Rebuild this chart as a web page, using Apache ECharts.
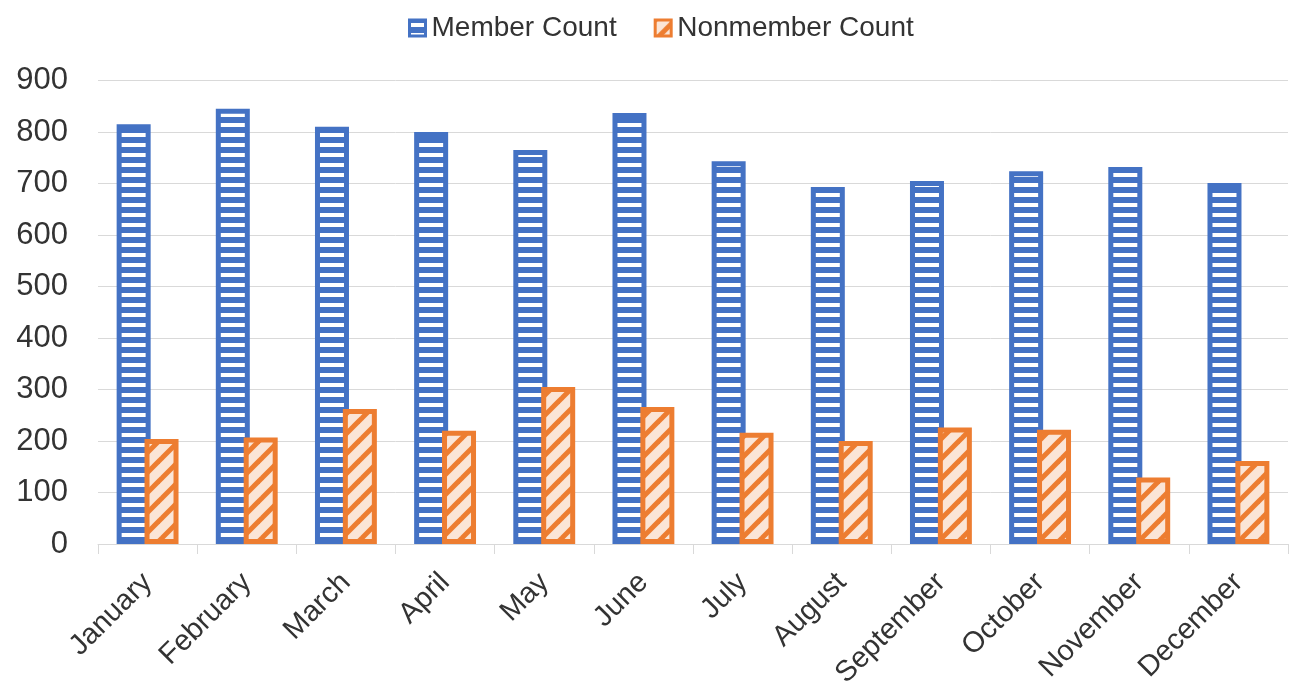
<!DOCTYPE html>
<html><head><meta charset="utf-8">
<script src="https://cdn.jsdelivr.net/npm/echarts@6/dist/echarts.min.js"></script>
<style>html,body{margin:0;padding:0;background:#fff}#c{width:1293px;height:692px}</style>
</head><body><div id="c"></div>
<script>
const categories = ['January','February','March','April','May','June','July','August','September','October','November','December'];
const memberCount = [815, 845, 810, 800, 765, 837, 743, 693, 705, 724, 732, 701];
const nonmemberCount = [204, 207, 262, 220, 305, 266, 216, 200, 226, 222, 129, 161];
const yMin = 0, yMax = 900, yStep = 100;

function blueTile() {
  const c = document.createElement('canvas'); c.width = 10; c.height = 10;
  const g = c.getContext('2d');
  g.fillStyle = '#4472C4'; g.fillRect(0, 0, 10, 10);
  g.fillStyle = '#ffffff'; g.fillRect(0, 3, 10, 4);
  return c;
}
function orangeTile() {
  const c = document.createElement('canvas'); c.width = 20; c.height = 20;
  const g = c.getContext('2d');
  g.fillStyle = '#FBE5D6'; g.fillRect(0, 0, 20, 20);
  g.strokeStyle = '#ED7D31'; g.lineWidth = 5;
  [0, 20, 40].forEach(k => { g.beginPath(); g.moveTo(k - 25, 25); g.lineTo(k + 5, -5); g.stroke(); });
  return c;
}
const bluePat = { image: blueTile(), repeat: 'repeat' };
const orangePat = { image: orangeTile(), repeat: 'repeat' };
const FONT = 'Liberation Sans';
const TXT = '#333333';

const chart = echarts.init(document.getElementById('c'));
chart.setOption({
  backgroundColor: '#fff',
  animation: false,
  textStyle: { fontFamily: FONT },
  legend: {
    top: 9, left: 403, itemWidth: 16, itemHeight: 16, itemGap: 37,
    textStyle: { fontSize: 28, color: TXT, fontFamily: FONT, padding: [0, 0, 0, 1] },
    data: [
      { name: 'Member Count', icon: 'rect', itemStyle: { color: bluePat, borderColor: '#4472C4', borderWidth: 3 } },
      { name: 'Nonmember Count', icon: 'rect', itemStyle: { color: orangePat, borderColor: '#ED7D31', borderWidth: 3 } }
    ]
  },
  grid: { left: 98, right: 5, top: 80.5, bottom: 148 },
  xAxis: {
    type: 'category', data: categories,
    axisLine: { lineStyle: { color: '#D9D9D9', width: 1 } },
    axisTick: { show: true, length: 10, lineStyle: { color: '#D9D9D9' } },
    axisLabel: { rotate: 45, interval: 0, fontSize: 29, color: TXT, margin: 34, fontFamily: FONT }
  },
  yAxis: {
    type: 'value', min: yMin, max: yMax, interval: yStep,
    axisLine: { show: false }, axisTick: { show: false },
    splitLine: { lineStyle: { color: '#D9D9D9', width: 1 } },
    axisLabel: { fontSize: 31, color: TXT, margin: 30, fontFamily: FONT }
  },
  series: [
    { name: 'Member Count', type: 'bar', data: memberCount, barWidth: 34, barGap: '-18%',
      itemStyle: { color: bluePat, borderColor: '#4472C4', borderWidth: 5 } },
    { name: 'Nonmember Count', type: 'bar', data: nonmemberCount, barWidth: 34,
      itemStyle: { color: orangePat, borderColor: '#ED7D31', borderWidth: 5 } }
  ]
});
</script></body></html>
